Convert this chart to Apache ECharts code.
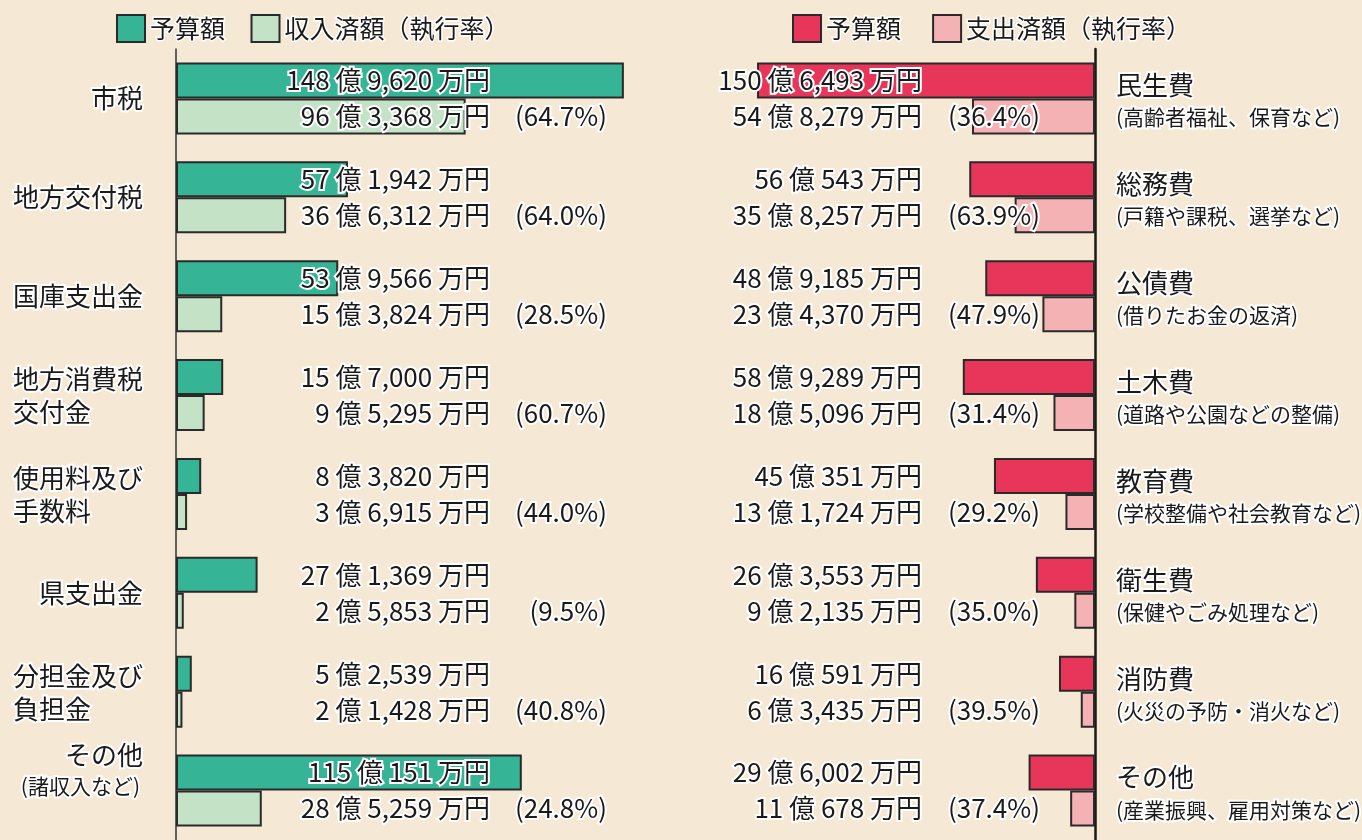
<!DOCTYPE html>
<html><head><meta charset="utf-8">
<script src="https://cdn.jsdelivr.net/npm/echarts@6/dist/echarts.min.js"></script>
<style>html,body{margin:0;padding:0;background:#f5e8d4;} #c{width:1362px;height:840px;}</style>
</head><body><div id="c"></div>
<script>
// values in 万円
const revCategories = ['市税', '地方交付税', '国庫支出金', '地方消費税\n交付金', '使用料及び\n手数料', '県支出金', '分担金及び\n負担金', 'その他'];
const revNotes = ['', '', '', '', '', '', '', '(諸収入など)'];
const revBudget = [1489620, 571942, 539566, 157000, 83820, 271369, 52539, 1150151];
const revActual = [963368, 366312, 153824, 95295, 36915, 25853, 21428, 285259];
const revRate = ['64.7', '64.0', '28.5', '60.7', '44.0', '9.5', '40.8', '24.8'];

const expCategories = ['民生費', '総務費', '公債費', '土木費', '教育費', '衛生費', '消防費', 'その他'];
const expNotes = ['(高齢者福祉、保育など)', '(戸籍や課税、選挙など)', '(借りたお金の返済)', '(道路や公園などの整備)', '(学校整備や社会教育など)', '(保健やごみ処理など)', '(火災の予防・消火など)', '(産業振興、雇用対策など)'];
const expBudget = [1506493, 560543, 489185, 589289, 450351, 263553, 160591, 296002];
const expActual = [548279, 358257, 234370, 185096, 131724, 92135, 63435, 110678];
const expRate = ['36.4', '63.9', '47.9', '31.4', '29.2', '35.0', '39.5', '37.4'];

const FONT = "'Noto Sans CJK JP', sans-serif";
const TXT = '#1a1a1a';
const C_G = '#35b496', C_LG = '#c3e2c6', C_R = '#e8365a', C_P = '#f4b2b4';
const BORDER = '#2a2a2a';

function fmt(v) {
  const oku = Math.floor(v / 10000), man = v % 10000;
  const m = man >= 1000 ? Math.floor(man / 1000) + ',' + String(man % 1000).padStart(3, '0') : String(man);
  return oku + ' 億 ' + m + ' 万円';
}
function txt(text, x, y, align, size) {
  return { type: 'text', style: { text: text, x: x, y: y, align: align, verticalAlign: 'middle',
    fontSize: size || 26, fontFamily: FONT, fill: TXT, stroke: '#fff', lineWidth: 4 } };
}

const chart = echarts.init(document.getElementById('c'));
const idx = revCategories.map((c, i) => [0, i]);
const legendText = { fontSize: 25, fontFamily: FONT, color: TXT, textBorderColor: '#fff', textBorderWidth: 3 };

chart.setOption({
  backgroundColor: '#f5e8d4',
  animation: false,
  legend: [
    { data: ['予算額', '収入済額（執行率）'], left: 116, top: 14, padding: 0, itemWidth: 28, itemHeight: 27, itemGap: 24,
      icon: 'rect', selectedMode: false, textStyle: legendText },
    { data: ['予算額 ', '支出済額（執行率）'], left: 792, top: 14, padding: 0, itemWidth: 28, itemHeight: 27, itemGap: 24,
      icon: 'rect', selectedMode: false, textStyle: legendText }
  ],
  grid: [
    { left: 176, top: 49, width: 451, height: 792 },
    { left: 754, top: 49, width: 341, height: 792 }
  ],
  xAxis: [
    { gridIndex: 0, type: 'value', min: 0, max: 1500000, show: false },
    { gridIndex: 1, type: 'value', min: 0, max: 1520000, inverse: true, show: false }
  ],
  yAxis: [
    { gridIndex: 0, type: 'category', data: revCategories, inverse: true,
      axisLine: { show: true, lineStyle: { color: '#333', width: 1.5 } }, axisTick: { show: false }, axisLabel: { show: false } },
    { gridIndex: 1, type: 'category', data: expCategories, inverse: true, position: 'right',
      axisLine: { show: true, lineStyle: { color: '#1a1a1a', width: 2.5 } }, axisTick: { show: false }, axisLabel: { show: false } }
  ],
  series: [
    { name: '予算額', type: 'bar', xAxisIndex: 0, yAxisIndex: 0, data: revBudget, barWidth: 36, barGap: '0%',
      itemStyle: { color: C_G, borderColor: BORDER, borderWidth: 2 } },
    { name: '収入済額（執行率）', type: 'bar', xAxisIndex: 0, yAxisIndex: 0, data: revActual, barWidth: 36, barGap: '0%',
      itemStyle: { color: C_LG, borderColor: BORDER, borderWidth: 2 } },
    { name: '予算額 ', type: 'bar', xAxisIndex: 1, yAxisIndex: 1, data: expBudget, barWidth: 36, barGap: '0%',
      itemStyle: { color: C_R, borderColor: BORDER, borderWidth: 2 } },
    { name: '支出済額（執行率）', type: 'bar', xAxisIndex: 1, yAxisIndex: 1, data: expActual, barWidth: 36, barGap: '0%',
      itemStyle: { color: C_P, borderColor: BORDER, borderWidth: 2 } },
    { type: 'custom', xAxisIndex: 0, yAxisIndex: 0, z: 10, data: idx, encode: { x: 0, y: 1 },
      renderItem: function (params, api) {
        const i = params.dataIndex;
        const o = api.coord([0, i]);
        const ch = [
          txt(fmt(revBudget[i]), o[0] + 314, o[1] - 18, 'right'),
          txt(fmt(revActual[i]), o[0] + 314, o[1] + 18, 'right'),
          txt('(' + revRate[i] + '%)', o[0] + 431, o[1] + 18, 'right')
        ];
        const lines = revCategories[i].split('\n');
        const lx = o[0] - 33;
        if (revNotes[i]) {
          ch.push(txt(lines[0], lx, o[1] - 35, 'right'));
          ch.push(txt(revNotes[i], lx - 3, o[1] - 5, 'right', 21));
        } else if (lines.length === 2) {
          ch.push(txt(lines[0], lx, o[1] - 16, 'right'));
          ch.push(txt(lines[1], lx - 130, o[1] + 17, 'left'));
        } else {
          ch.push(txt(lines[0], lx, o[1], 'right'));
        }
        return { type: 'group', children: ch };
      } },
    { type: 'custom', xAxisIndex: 1, yAxisIndex: 1, z: 10, data: idx, encode: { x: 0, y: 1 },
      renderItem: function (params, api) {
        const i = params.dataIndex;
        const o = api.coord([0, i]);
        return { type: 'group', children: [
          txt(fmt(expBudget[i]), o[0] - 173, o[1] - 18, 'right'),
          txt(fmt(expActual[i]), o[0] - 173, o[1] + 18, 'right'),
          txt('(' + expRate[i] + '%)', o[0] - 55, o[1] + 18, 'right'),
          txt(expCategories[i], o[0] + 21, o[1] - 13, 'left'),
          txt(expNotes[i], o[0] + 21, o[1] + 19, 'left', 21)
        ] };
      } }
  ]
});
</script></body></html>
